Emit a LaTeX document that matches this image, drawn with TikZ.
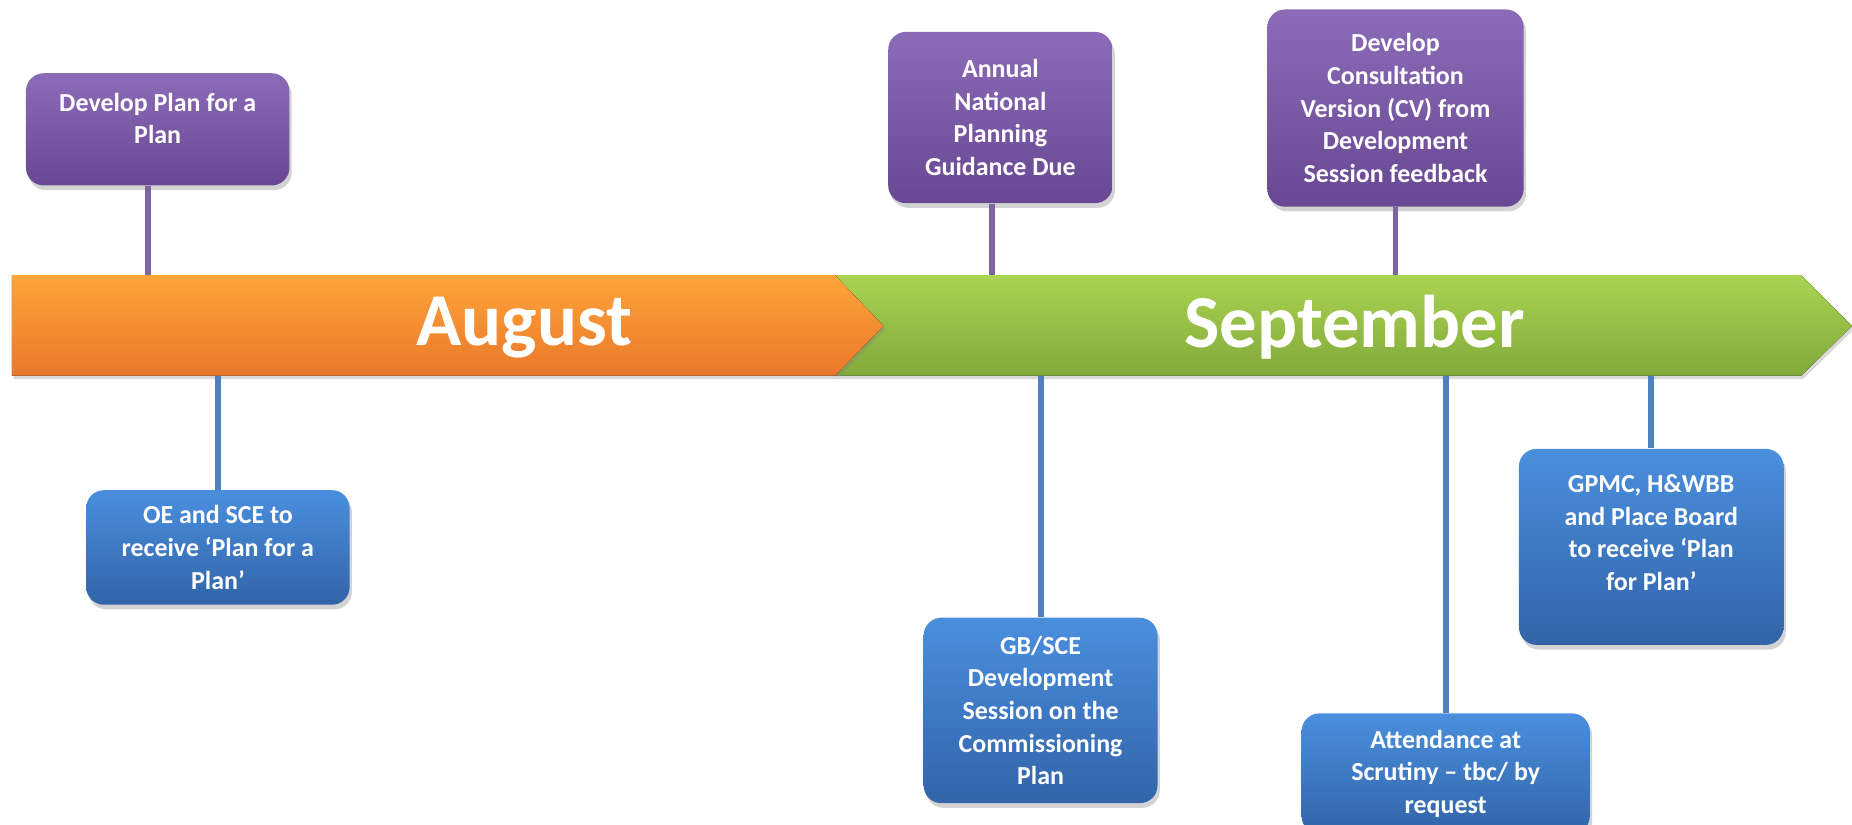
\documentclass[tikz,border=0pt]{standalone}
\usepackage{fontspec}
\setmainfont{Carlito}
\usetikzlibrary{shadows}
\definecolor{augtop}{HTML}{FFA43A}
\definecolor{augbot}{HTML}{E9782A}
\definecolor{septop}{HTML}{ABD352}
\definecolor{sepbot}{HTML}{82A93A}
\definecolor{purptop}{HTML}{8C6BB8}
\definecolor{purpbot}{HTML}{684892}
\definecolor{bluetop}{HTML}{4A8FDE}
\definecolor{bluebot}{HTML}{3264A8}
\definecolor{purpline}{HTML}{8064A2}
\definecolor{blueline}{HTML}{4F81BD}
\begin{document}
\begin{tikzpicture}[x=0.2mm,y=-0.2mm]
		\tikzset{taskbox/.style = {rounded corners=3mm, text=white, align=center, inner sep=2pt,
				font=\bfseries\fontsize{12.5}{15.7}\selectfont,
				drop shadow={opacity=0.35, shadow xshift=0.4mm, shadow yshift=-0.8mm}},
			purplebox/.style = {taskbox, top color=purptop, bottom color=purpbot},
			bluebox/.style = {taskbox, top color=bluetop, bottom color=bluebot},
			purplestem/.style = {draw=purpline, line width=1mm},
			bluestem/.style = {draw=blueline, line width=1mm},
			month/.style = {text=white, font=\bfseries\fontsize{36}{40}\selectfont}}

		\useasboundingbox (0,0) rectangle (1568,698);

		\coordinate (bartop) at (0,233);
		\coordinate (barbot) at (0,318);

		\fill[top color=septop, bottom color=sepbot, drop shadow={opacity=0.3, shadow xshift=0.3mm, shadow yshift=-0.6mm}]
			(707,233) -- (1525,233) -- (1568,276) -- (1525,318) -- (707,318) -- (748,276) -- cycle;
		\fill[top color=augtop, bottom color=augbot, drop shadow={opacity=0.3, shadow xshift=0.3mm, shadow yshift=-0.6mm}]
			(10,233) -- (707,233) -- (748,276) -- (707,318) -- (10,318) -- cycle;

		\node[month] (aug) at (444,277) {August};
		\node[month] (sep) at (1147,277) {September};

		\node[purplebox, minimum width=44.6mm, minimum height=19mm] (P_1) at (133.5,109.5) {Develop Plan for a\\Plan\\[-5pt]\mbox{}};
		\node[purplebox, minimum width=38mm, minimum height=29mm] (P_2) at (847,99.5) {Annual\\National\\Planning\\Guidance Due};
		\node[purplebox, minimum width=43.4mm, minimum height=33.4mm] (P_3) at (1181.5,91.5) {Develop\\Consultation\\Version (CV) from\\Development\\Session feedback};

		\node[bluebox, minimum width=44.6mm, minimum height=19.4mm] (B_1) at (184.5,463.5) {OE and SCE to\\receive `Plan for a\\Plan'};
		\node[bluebox, minimum width=39.6mm, minimum height=31.4mm] (B_2) at (881,601.5) {GB/SCE\\Development\\Session on the\\Commissioning\\Plan};
		\node[bluebox, minimum width=48.8mm, minimum height=20.4mm] (B_3) at (1224,655) {Attendance at\\Scrutiny -- tbc/ by\\request};
		\node[bluebox, minimum width=44.8mm, minimum height=33.2mm] (B_4) at (1398,463) {GPMC, H\&WBB\\and Place Board\\to receive `Plan\\for Plan'\\[-2pt]\mbox{}};

		\draw[purplestem] ([xshift=-1.6mm]P_1.south) -- ([xshift=-1.6mm]P_1.south |- bartop);
		\draw[purplestem] ([xshift=-1.4mm]P_2.south) -- ([xshift=-1.4mm]P_2.south |- bartop);
		\draw[purplestem] (P_3.south) -- (P_3.south |- bartop);
		\draw[bluestem] (B_1.north) -- (B_1.north |- barbot);
		\draw[bluestem] (B_2.north) -- (B_2.north |- barbot);
		\draw[bluestem] (B_3.north) -- (B_3.north |- barbot);
		\draw[bluestem] (B_4.north) -- (B_4.north |- barbot);

	\end{tikzpicture}
\end{document}
